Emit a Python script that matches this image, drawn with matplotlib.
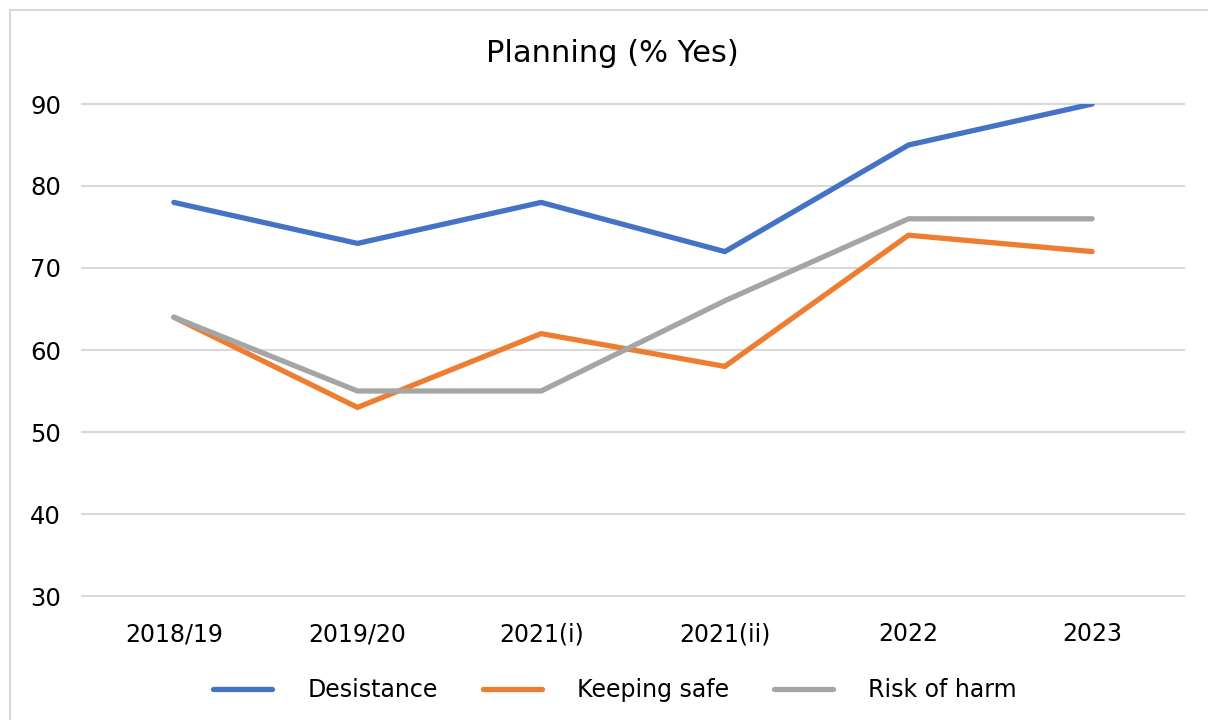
import matplotlib
matplotlib.use("Agg")
import matplotlib.pyplot as plt
from matplotlib.patches import Rectangle

categories = ["2018/19", "2019/20", "2021(i)", "2021(ii)", "2022", "2023"]
desistance = [78, 73, 78, 72, 85, 90]
keeping_safe = [64, 53, 62, 58, 74, 72]
risk_of_harm = [64, 55, 55, 66, 76, 76]
yticks = [30, 40, 50, 60, 70, 80, 90]

plt.rcParams['font.family'] = ['DejaVu Sans']

W, H = 1208, 720
fig = plt.figure(figsize=(W/100, H/100), dpi=100)
fig.patches.append(Rectangle((10/W, -0.1), 1.2, 1 - 10/H + 0.1, transform=fig.transFigure,
                             facecolor='none', edgecolor='#D9D9D9', linewidth=1.5))

ax = fig.add_axes([82/W, 1 - 596/H, (1184-82)/W, (596-104)/H])
x = list(range(len(categories)))
ax.plot(x, desistance, color='#4472C4', lw=3.8, solid_capstyle='round', label='Desistance', zorder=3)
ax.plot(x, keeping_safe, color='#ED7D31', lw=3.8, solid_capstyle='round', label='Keeping safe', zorder=3)
ax.plot(x, risk_of_harm, color='#A5A5A5', lw=3.8, solid_capstyle='round', label='Risk of harm', zorder=3)

ax.set_xlim(-0.5, len(categories) - 0.5)
ax.set_ylim(30, 90)
ax.set_yticks(yticks)
ax.set_xticks(x)
ax.set_xticklabels(categories)
ax.yaxis.grid(True, color='#D9D9D9', lw=1.5)
for gl in ax.get_ygridlines():
    gl.set_clip_on(False)
ax.set_axisbelow(True)
for s in ax.spines.values():
    s.set_visible(False)
ax.tick_params(axis='both', length=0, colors='black')
ax.tick_params(axis='y', labelsize=17.5, pad=15)
ax.tick_params(axis='x', labelsize=17, pad=19)

fig.text(612/W, 1 - 53/H, "Planning (% Yes)", ha='center', va='center', fontsize=22)

leg = fig.legend(loc='center', bbox_to_anchor=(615/W, 1 - 690/H), ncol=3, frameon=False,
                 fontsize=17, handlelength=2.5, handletextpad=1.5, columnspacing=1.9)

fig.savefig("out.png", dpi=100)
